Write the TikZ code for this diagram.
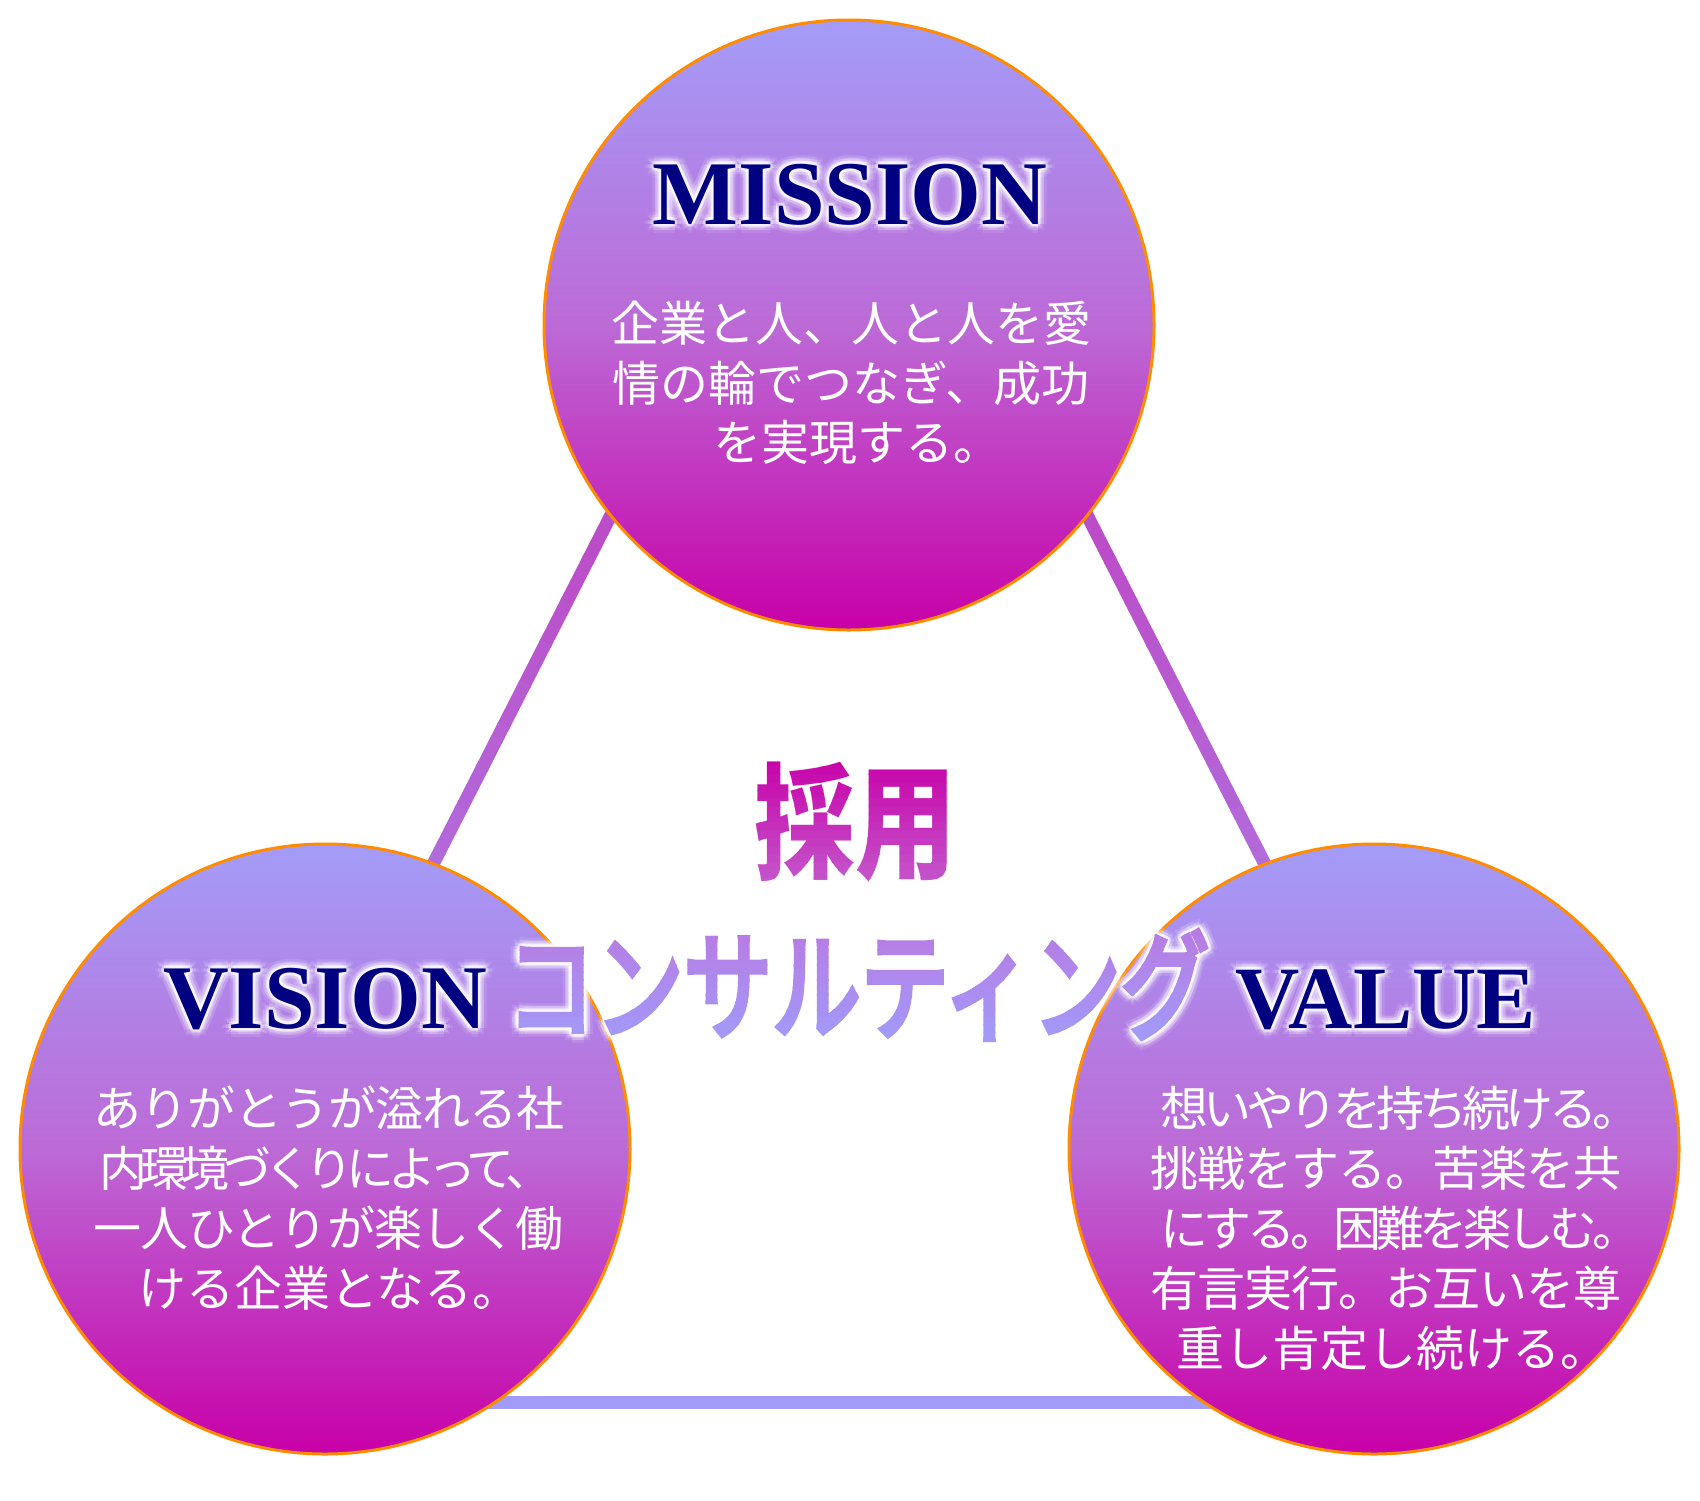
\documentclass[tikz,border=0pt]{standalone}
\usepackage{fontspec}
\usepackage{graphicx}
\usetikzlibrary{calc}
\newfontfamily\jp{Noto Sans CJK JP}
\newfontfamily\serifb{Liberation Serif}
\definecolor{ctop}{RGB}{164,156,248}
\definecolor{cmid}{RGB}{188,106,214}
\definecolor{cbot}{RGB}{200,0,168}
\definecolor{rim}{RGB}{255,140,0}
\definecolor{navy}{RGB}{0,0,128}
\definecolor{lineA}{RGB}{205,30,172}
\definecolor{lineB}{RGB}{160,156,248}
\definecolor{saiA}{RGB}{200,0,168}
\definecolor{saiB}{RGB}{196,88,204}
\definecolor{conA}{RGB}{184,122,226}
\definecolor{conB}{RGB}{160,156,250}
\newcommand\saiyotext{\scalebox{0.8}[1]{採用}}
\newcommand\constext{\scalebox{0.75}[1]{コンサルティング}}
\newcommand\saiyofont{\jp\bfseries\fontsize{126}{126}\selectfont}
\newcommand\consfont{\jp\fontsize{118}{118}\selectfont\addfontfeature{FakeBold=5}}
\newcommand\titlefont{\serifb\bfseries\fontsize{91}{91}\selectfont}
\newcommand\glowtext[4]{%
  \foreach \gr/\go [count=\gi] in {9/0.1,6/0.18,3/0.4}{%
    \foreach \ga [count=\gj] in {0,45,...,315}{%
      \node[glowstyle, text opacity=\go, #3] (#1-\gi-\gj) at ($#2+(\ga:\gr)$) {#4};
    }}}
\tikzset{
  circ/.style={circle, minimum size=610pt, inner sep=0, draw=rim, line width=3pt,
    top color=ctop, bottom color=cbot, middle color=cmid},
  tri/.style={line width=13pt, line cap=butt},
  glowstyle/.style={text=white, inner sep=0},
  title/.style={font=\titlefont, text=navy, anchor=base, inner sep=0},
  jpline/.style={font=\jp\fontsize{48}{58}\selectfont, text=white, inner sep=0, anchor=base west},
  jpcen/.style={font=\jp\fontsize{48}{58}\selectfont, text=white, inner sep=0, anchor=base},
}
\begin{document}
\begin{tikzpicture}[x=1pt,y=-1pt]
\useasboundingbox (0,0) rectangle (1700,1500);
\fill[white] (0,0) rectangle (1700,1500);
% triangle
\coordinate (A) at (849,48);
\coordinate (B) at (159,1402);
\coordinate (C) at (1539,1402);
\foreach \i in {0,...,29}{
  \pgfmathsetmacro\sa{0.04+0.92*\i/30}
  \pgfmathsetmacro\sb{0.04+0.92*(\i+1)/30+0.002}
  \pgfmathtruncatemacro\pc{100*(1-(\sa+\sb)/2)}
  \draw[tri, draw=lineA!\pc!lineB] ($(A)!\sa!(B)$) -- ($(A)!\sb!(B)$);
  \draw[tri, draw=lineA!\pc!lineB] ($(A)!\sa!(C)$) -- ($(A)!\sb!(C)$);
}
\draw[tri, draw=lineB] ($(B)!0.04!(C)$) -- ($(B)!0.96!(C)$);
% circles
\node[circ] (mission) at (849,325) {};
\node[circ] (vision) at (325,1149) {};
\node[circ] (value) at (1374,1149) {};
% titles
\glowtext{gm}{(850,224)}{font=\titlefont, anchor=base}{MISSION}
\node[title] (missiont) at (850,224) {MISSION};
\glowtext{gv}{(325,1028)}{font=\titlefont, anchor=base}{VISION}
\node[title] (visiont) at (325,1028) {VISION};
\glowtext{ga}{(1386,1028)}{font=\serifb\bfseries\fontsize{89}{89}\selectfont, anchor=base}{VALUE}
\node[title, font=\serifb\bfseries\fontsize{89}{89}\selectfont] (valuet) at (1386,1028) {VALUE};
% mission text
\node[jpcen] (m1) at (851,341) {企業と人、人と人を愛};
\node[jpcen] (m2) at (851,401) {情の輪でつなぎ、成功};
\node[jpcen] (m3) at (857,460) {を実現する。};
% vision text
\node[jpline, font=\jp\fontsize{48}{58}\selectfont\addfontfeature{LetterSpace=-2}] (v1) at (93,1126) {ありがとうが溢れる社};
\node[jpline, font=\jp\fontsize{48}{58}\selectfont\addfontfeature{LetterSpace=-14}] (v2) at (99,1186) {内環境づくりによって、};
\node[jpline, font=\jp\fontsize{48}{58}\selectfont\addfontfeature{LetterSpace=-2}] (v3) at (93,1246) {一人ひとりが楽しく働};
\node[jpline] (v4) at (138,1306) {ける企業となる。};
% value text
\node[jpline, font=\jp\fontsize{48}{58}\selectfont\addfontfeature{LetterSpace=-10}] (a1) at (1160,1126) {想いやりを持ち続ける。};
\node[jpline, font=\jp\fontsize{48}{58}\selectfont\addfontfeature{LetterSpace=-2}] (a2) at (1150,1186) {挑戦をする。苦楽を共};
\node[jpline, font=\jp\fontsize{48}{58}\selectfont\addfontfeature{LetterSpace=-10}] (a3) at (1160,1246) {にする。困難を楽しむ。};
\node[jpline, font=\jp\fontsize{48}{58}\selectfont\addfontfeature{LetterSpace=-2}] (a4) at (1150,1306) {有言実行。お互いを尊};
\node[jpline] (a5) at (1176,1366) {重し肯定し続ける。};
% center text 1: gradient by clipped bands
\foreach \k in {0,...,15}{
  \pgfmathsetmacro\ya{758+8*\k}
  \pgfmathsetmacro\yb{\ya+8.5}
  \pgfmathtruncatemacro\pc{100-100*(\k+0.5)/16}
  \begin{scope}
    \clip (700,\ya) rectangle (1010,\yb);
    \node[inner sep=0, font=\saiyofont, text=saiA!\pc!saiB] (sai-\k) at (855,822) {\saiyotext};
  \end{scope}
}
% center text 2
\glowtext{gc}{(858,985)}{font=\consfont, anchor=center}{\constext}
\foreach \k in {0,...,15}{
  \pgfmathsetmacro\ya{927+7.5*\k}
  \pgfmathsetmacro\yb{\ya+8}
  \pgfmathtruncatemacro\pc{100-100*(\k+0.5)/16}
  \begin{scope}
    \clip (470,\ya) rectangle (1250,\yb);
    \node[inner sep=0, font=\consfont, text=conA!\pc!conB] (con-\k) at (858,985) {\constext};
  \end{scope}
}
\end{tikzpicture}
\end{document}
